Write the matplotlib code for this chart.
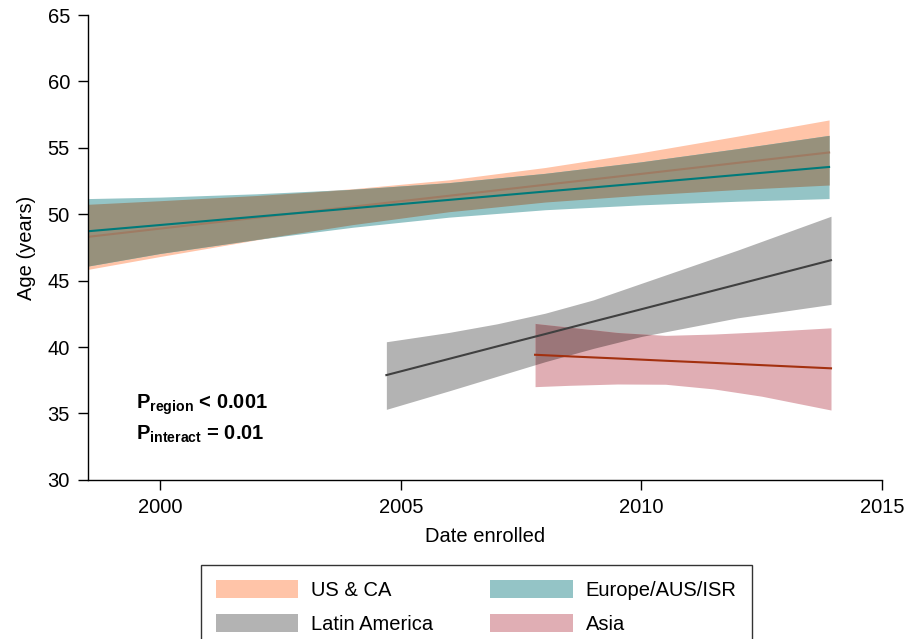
import numpy as np
import matplotlib
matplotlib.use("Agg")
import matplotlib.pyplot as plt
from matplotlib.patches import Patch

plt.rcParams['font.family'] = ['Liberation Sans', 'DejaVu Sans']
plt.rcParams['mathtext.fontset'] = 'custom'
plt.rcParams['mathtext.rm'] = 'Liberation Sans'
plt.rcParams['mathtext.bf'] = 'Liberation Sans:bold'

# US & CA and Europe/AUS/ISR share the same enrolment span
years_west = [1998.5, 2000, 2002, 2004, 2006, 2008, 2010, 2012, 2013.9]
us_fit = [48.30, 48.92, 49.74, 50.57, 51.39, 52.22, 53.04, 53.87, 54.65]
us_hi = [50.75, 51.02, 51.41, 51.92, 52.59, 53.52, 54.64, 55.88, 57.10]
us_lo = [45.85, 46.82, 48.07, 49.22, 50.19, 50.92, 51.44, 51.86, 52.20]
eu_fit = [48.72, 49.19, 49.82, 50.45, 51.08, 51.71, 52.33, 52.96, 53.56]
eu_hi = [51.18, 51.29, 51.54, 51.88, 52.38, 53.08, 53.95, 54.94, 55.94]
eu_lo = [46.10, 47.05, 48.10, 49.02, 49.78, 50.34, 50.71, 50.98, 51.18]

years_latam = [2004.7, 2006, 2007, 2008, 2009, 2010, 2012, 2013.94]
latam_fit = [37.89, 39.11, 40.05, 40.98, 41.92, 42.85, 44.72, 46.54]
latam_hi = [40.40, 41.10, 41.75, 42.55, 43.55, 44.80, 47.30, 49.85]
latam_lo = [35.31, 36.70, 37.80, 38.90, 39.90, 40.80, 42.20, 43.21]

years_asia = [2007.79, 2008.5, 2009.5, 2010.5, 2011.5, 2012.5, 2013.94]
asia_fit = [39.42, 39.30, 39.14, 38.97, 38.81, 38.64, 38.40]
asia_hi = [41.78, 41.50, 41.10, 40.88, 40.98, 41.15, 41.45]
asia_lo = [37.02, 37.12, 37.22, 37.20, 36.85, 36.30, 35.26]

labels = ['US & CA', 'Latin America', 'Europe/AUS/ISR', 'Asia']
band_colors = ['#FFC4A8', '#B3B3B3', '#94C4C6', '#E0AEB4']
line_colors = ['#9E7B63', '#404040', '#007A7A', '#A3300F']
overlap_west = '#97917C'
overlap_east = '#9B7679'

fs = 14.5

fig = plt.figure(figsize=(9.14, 6.39), dpi=100)
ax = fig.add_axes([0.0963, 0.249, 0.8687, 0.7275])

# bands
ax.fill_between(years_west, us_lo, us_hi, color=band_colors[0], lw=0)
ax.fill_between(years_west, eu_lo, eu_hi, color=band_colors[2], lw=0)
ax.fill_between(years_west, np.maximum(us_lo, eu_lo), np.minimum(us_hi, eu_hi),
                color=overlap_west, lw=0)

ax.fill_between(years_latam, latam_lo, latam_hi, color=band_colors[1], lw=0)
ax.fill_between(years_asia, asia_lo, asia_hi, color=band_colors[3], lw=0)
# overlap of Latin America and Asia bands
xa = np.linspace(years_asia[0], years_asia[-1], 200)
ov_lo = np.maximum(np.interp(xa, years_latam, latam_lo), np.interp(xa, years_asia, asia_lo))
ov_hi = np.minimum(np.interp(xa, years_latam, latam_hi), np.interp(xa, years_asia, asia_hi))
ax.fill_between(xa, ov_lo, ov_hi, where=ov_hi > ov_lo, color=overlap_east, lw=0)

# fitted lines
ax.plot(years_west, us_fit, color=line_colors[0], lw=1.5)
ax.plot(years_west, eu_fit, color=line_colors[2], lw=1.5)
ax.plot(years_latam, latam_fit, color=line_colors[1], lw=1.5)
ax.plot(years_asia, asia_fit, color=line_colors[3], lw=1.5)

ax.set_xlim(1998.5, 2015)
ax.set_ylim(30, 65)
ax.set_xticks([2000, 2005, 2010, 2015])
ax.set_yticks([30, 35, 40, 45, 50, 55, 60, 65])
ax.spines['top'].set_visible(False)
ax.spines['right'].set_visible(False)
for s in ['left', 'bottom']:
    ax.spines[s].set_linewidth(1.0)
ax.tick_params(direction='out', length=7, width=1.0, labelsize=fs, pad=6)
ax.set_xlabel('Date enrolled', fontsize=fs, labelpad=7)
ax.set_ylabel('Age (years)', fontsize=fs, labelpad=8)

ax.text(1999.5, 35.65, r'$\mathbf{P_{region}}$ < 0.001', fontsize=fs,
        fontweight='bold', va='center')
ax.text(1999.5, 33.4, r'$\mathbf{P_{interact}}$ = 0.01', fontsize=fs,
        fontweight='bold', va='center')

handles = [Patch(facecolor=c, edgecolor='none') for c in band_colors]
leg = fig.legend(handles, labels, ncol=2, loc='upper center',
                 bbox_to_anchor=(0.521, 0.116), fontsize=fs, frameon=True,
                 fancybox=False, edgecolor='black', handlelength=4.1,
                 handleheight=1.0, handletextpad=0.65, columnspacing=2.8,
                 borderpad=0.75, labelspacing=0.7, borderaxespad=0)
leg.get_frame().set_linewidth(1.0)

fig.savefig('out.png', dpi=100)
